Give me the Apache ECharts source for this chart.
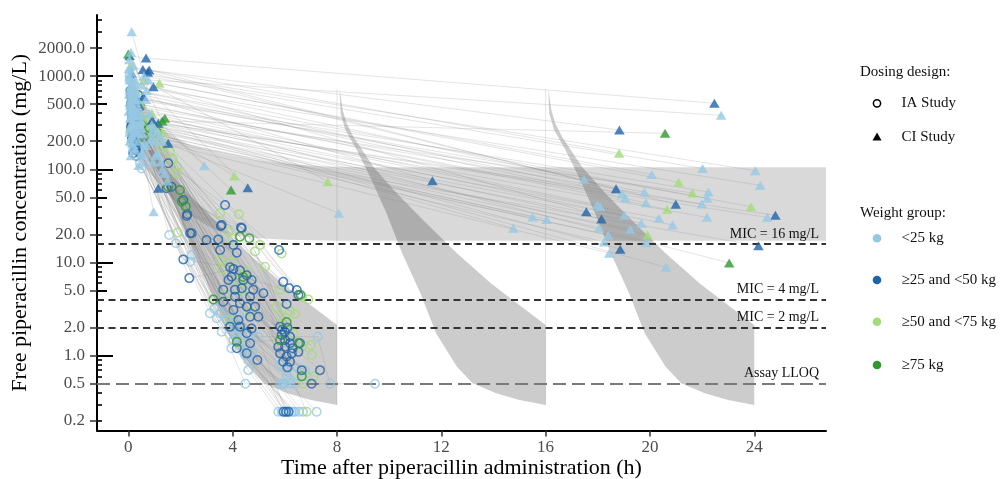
<!DOCTYPE html>
<html><head><meta charset="utf-8">
<script src="https://cdn.jsdelivr.net/npm/echarts/dist/echarts.min.js"></script>
<style>html,body{margin:0;padding:0;background:#fff}#c{width:1004px;height:479px}</style>
</head><body><div id="c"></div>
<script>
// ---------- axis ticks ----------
const yTickLabels = [0.2,0.5,1,2,5,10,20,50,100,200,500,1000,2000];
const xTicks = [0,4,8,12,16,20,24];
const logTicksLong = [1,10,100,1000];
const logTicksMid = [0.5,5,50,500];
const logTicksShort = [0.2,0.3,0.4,0.6,0.7,0.8,0.9,2,3,4,6,7,8,9,20,30,40,60,70,80,90,200,300,400,600,700,800,900,2000,3000,4000];

// ---------- reference lines ----------
const micLines = [{name:'MIC = 16 mg/L', value:16},{name:'MIC = 4 mg/L', value:4},{name:'MIC = 2 mg/L', value:2}];
const lloqLine = {name:'Assay LLOQ', value:0.5};

// ---------- prediction bands ----------
const doseTimes = [0,8,16];
const iaBandUpper = [[0.1,732],[0.22,433],[0.37,312],[0.63,224],[1.4,106],[2.3,55],[3.3,28.5],[4.6,12.6],[5.9,6.0],[6.9,3.65],[8.0,2.13]];
const iaBandLower = [[0.1,732],[0.14,400],[0.32,265],[0.76,161],[1.27,83],[1.9,33.7],[2.5,12.6],[3.2,4.67],[3.8,1.74],[4.6,0.76],[5.2,0.505],[6.1,0.395],[7.0,0.335],[8.0,0.296]];
const ciBandUpper = [[0,1500],[0.3,800],[0.6,520],[1.1,310],[1.6,235],[2.4,180],[3.6,148],[4.9,126],[6.2,113],[7.5,107],[9,105.5],[26.75,105]];
const ciBandLower = [[0,200],[0.5,120],[1,80],[1.5,55],[2,40],[2.5,31],[3,25],[3.5,21.5],[4,19.6],[5,18.2],[6,17.5],[8,17.1],[26.75,17.1]];

// ---------- observations: IA study (one array per individual, [time h, conc mg/L]) ----------
const iaLightBlue = [
 [[0.10,700],[1.57,19.7],[4.03,1.47],[6.00,0.25]],
 [[0.15,600],[1.83,16.1],[4.16,1.60],[6.14,0.25]],
 [[0.20,520],[2.37,10.2],[4.60,0.70],[5.75,0.25]],
 [[0.13,190],[3.13,2.85],[5.88,0.25]],
 [[0.19,161],[3.39,2.52],[6.27,0.25]],
 [[0.45,116],[3.58,1.81],[6.40,0.25]],
 [[0.51,102],[3.77,2.42],[6.70,0.25]],
 [[0.30,400],[4.09,2.05],[7.22,0.25]],
 [[0.25,350],[4.35,1.36],[5.82,0.50]],
 [[0.35,300],[4.47,1.02],[6.01,0.50]],
 [[0.40,250],[4.49,0.50],[6.20,0.50]],
 [[0.22,800],[4.67,1.67],[6.39,0.50]],
 [[0.30,450],[4.99,1.60],[7.26,1.60],[7.73,0.50]],
 [[0.08,900],[4.30,1.90],[6.07,0.70]],
 [[0.28,220],[4.20,2.20],[6.46,0.75]],
 [[0.40,180],[3.90,2.60],[6.78,0.70]],
 [[0.60,130],[4.40,1.20],[5.95,0.50],[9.46,0.50]],
 [[0.18,380],[4.60,0.90],[6.33,0.25]],
 [[0.33,500],[3.95,1.20],[5.90,0.50]],
 [[0.12,650],[3.52,2.85],[6.10,0.60]],
 [[0.26,270],[2.43,12.0],[4.25,2.70],[5.80,0.80]],
 [[0.05,1000],[0.50,300],[3.30,3.20],[6.05,0.25]],
 [[0.16,430],[4.75,1.10],[6.55,0.25]],
 [[0.42,150],[4.10,1.75],[6.22,0.55]]
];
const iaDarkBlue = [
 [[0.38,627],[1.53,116],[3.71,41.4],[5.78,13.6]],
 [[0.45,470],[1.66,65],[3.58,25.3],[5.94,6.2]],
 [[0.20,300],[1.47,62.5],[3.55,24.6],[6.17,5.3]],
 [[0.15,220],[2.11,46.8],[4.32,23.8],[6.46,5.07]],
 [[0.19,149],[2.26,33],[4.35,23.3],[6.52,4.48]],
 [[0.12,400],[2.24,31.6],[3.45,17.7],[6.07,3.59]],
 [[0.10,500],[2.37,20.6],[4.03,15.4],[5.82,2.05]],
 [[0.15,350],[2.43,20.6],[3.52,13.6],[6.10,2.0]],
 [[0.25,420],[3.00,17.4],[4.16,12.7],[5.90,1.9]],
 [[0.10,280],[2.11,10.8],[3.90,8.9],[6.00,1.8]],
 [[0.18,260],[2.34,6.8],[4.03,8.5],[5.88,1.67]],
 [[0.12,600],[4.28,8.2],[6.20,1.6]],
 [[0.18,450],[4.54,7.3],[6.01,1.47]],
 [[0.23,330],[3.96,7.05],[6.20,1.36]],
 [[0.20,380],[4.73,6.5],[6.58,1.36]],
 [[0.08,700],[4.41,6.5],[5.75,1.25]],
 [[0.16,240],[3.84,6.5],[6.01,1.25]],
 [[0.14,520],[4.35,5.3],[6.30,1.2]],
 [[0.30,180],[3.64,5.1],[6.52,1.1]],
 [[0.14,310],[4.09,5.1],[5.82,1.06]],
 [[0.16,560],[4.79,5.1],[6.27,1.06]],
 [[0.26,270],[5.18,4.67],[6.07,0.98]],
 [[0.20,230],[4.67,4.3],[5.94,0.86]],
 [[0.12,480],[4.09,4.3],[6.20,0.86]],
 [[0.18,350],[3.64,3.8],[6.10,0.75]],
 [[0.22,290],[4.28,3.65],[7.35,0.70]],
 [[0.10,620],[4.54,3.36],[6.65,0.70]],
 [[0.24,200],[4.86,3.36],[7.03,0.50]],
 [[0.18,260],[4.03,3.09],[5.95,0.25]],
 [[0.20,240],[4.67,2.62],[6.05,0.25]],
 [[0.16,300],[4.99,2.62]],
 [[0.14,210],[4.22,2.42],[6.15,0.25]],
 [[0.28,170],[3.90,2.05]],
 [[0.20,400],[4.28,2.05]],
 [[0.22,250],[4.73,1.96]],
 [[0.24,190],[4.54,1.74]],
 [[0.16,330],[4.67,1.36]],
 [[0.28,160],[4.16,1.20]],
 [[0.12,300],[4.54,1.06]],
 [[0.30,140],[4.95,0.90]]
];
const iaLightGreen = [
 [[0.84,286],[3.52,33.7],[5.88,12.5]],
 [[1.00,250],[4.24,32.9],[6.65,4.3]],
 [[1.60,155],[3.84,21.4],[5.82,5.1]],
 [[1.86,107],[5.05,15.4],[6.90,4.0]],
 [[1.86,90.6],[4.86,13.1],[5.69,3.36]],
 [[1.20,200],[5.24,9.0],[5.88,2.62]],
 [[1.40,180],[3.52,10.6],[6.20,3.0]],
 [[0.50,350],[3.96,10.2],[6.07,2.22]],
 [[0.70,300],[4.00,18.0],[6.33,1.74]],
 [[1.10,230],[4.35,5.1],[6.65,1.25]],
 [[0.60,320],[4.67,2.97],[7.03,1.02]],
 [[0.90,260],[3.90,2.42],[7.10,0.60]],
 [[1.30,170],[4.20,6.5],[6.71,0.50]],
 [[0.40,380],[3.70,4.5],[7.00,1.30]],
 [[1.70,130],[4.50,8.0],[6.84,0.25]],
 [[0.30,420],[1.90,21.0],[3.60,8.5],[6.40,2.8]]
];
const iaDarkGreen = [
 [[0.50,300],[1.53,65],[4.64,18.2],[6.07,2.3]],
 [[1.10,250],[1.98,60],[4.28,18.9],[6.52,1.36]],
 [[0.80,280],[2.05,45],[3.26,4.0],[6.65,0.6]],
 [[0.30,350],[4.16,1.41],[5.82,1.47]],
 [[0.60,220],[2.20,40],[4.40,7.0],[6.60,4.5]]
];

// ---------- observations: CI study ----------
const ciLightBlue = [
 [[0.77,908],[22.73,380]],
 [[0.13,2990],[0.60,1000],[22.02,102]],
 [[0.10,1100],[24.04,96.7]],
 [[0.05,950],[20.07,88]],
 [[0.20,850],[17.47,78]],
 [[0.15,780],[24.23,67.3]],
 [[0.68,560],[22.24,57]],
 [[0.25,700],[18.93,54.3]],
 [[0.30,650],[19.06,49.2]],
 [[0.10,600],[19.79,57]],
 [[0.35,560],[22.20,48.9]],
 [[0.05,520],[19.85,43.8]],
 [[0.18,480],[21.99,42.4]],
 [[0.40,450],[17.98,41.7]],
 [[0.22,430],[18.09,39.8]],
 [[0.12,400],[19.02,32.1]],
 [[0.28,380],[22.19,30.5]],
 [[0.08,350],[20.34,29.8]],
 [[0.45,340],[24.50,30.5]],
 [[0.15,320],[20.87,25.3]],
 [[0.32,300],[19.67,26.3]],
 [[0.20,290],[18.06,23.6]],
 [[0.50,280],[19.25,22.7]],
 [[0.06,270],[18.40,19.6]],
 [[0.26,250],[18.24,16.6]],
 [[0.38,240],[19.85,16.3]],
 [[0.14,230],[18.44,12.6]],
 [[0.90,300],[20.62,8.88]],
 [[1.00,280],[14.76,23.3]],
 [[1.10,250],[15.50,30.8]],
 [[1.20,230],[16.04,29]],
 [[1.30,200],[8.07,33.7]],
 [[0.80,400],[2.91,109]],
 [[0.55,150],[0.97,35]],
 [[0.10,800],[0.90,250]],
 [[0.05,700],[1.00,200]],
 [[0.12,650],[1.10,150]],
 [[0.20,600],[1.25,120]],
 [[0.08,500],[1.30,100]],
 [[0.16,380],[1.40,90]],
 [[0.24,330],[1.50,75]],
 [[0.06,200],[0.70,180]],
 [[0.18,170],[0.95,120]],
 [[0.10,140],[0.40,110]],
 [[0.02,1200],[0.35,420]],
 [[0.04,1000],[0.45,380]],
 [[0.06,900],[0.30,520]],
 [[0.09,760],[0.50,330]],
 [[0.03,640],[0.25,560]],
 [[0.11,560],[0.42,300]],
 [[0.07,480],[0.33,260]],
 [[0.14,440],[0.55,240]],
 [[0.02,420],[0.22,380]],
 [[0.09,360],[0.38,200]],
 [[0.16,300],[0.62,190]],
 [[0.05,250],[0.28,160]],
 [[0.12,220],[0.48,140]],
 [[0.19,1300],[0.70,700]],
 [[0.04,1500],[0.26,900]],
 [[0.10,1800],[0.50,800]],
 [[0.21,460],[0.85,210]],
 [[0.15,190],[1.05,140]]
];
const ciDarkBlue = [
 [[0.05,1650],[0.68,1560],[22.47,511]],
 [[0.56,1180],[18.83,264]],
 [[0.75,1100],[18.70,61.9]],
 [[0.80,1160],[20.99,42.1]],
 [[0.96,770],[17.56,35]],
 [[0.92,338],[18.14,29.3]],
 [[1.15,312],[24.81,32.1]],
 [[1.53,190],[24.16,15.1]],
 [[0.30,360],[18.86,13.9]],
 [[0.58,600],[11.66,75.5]],
 [[0.13,1070],[4.58,63.5]],
 [[0.40,500],[1.15,62.5]]
];
const ciLightGreen = [
 [[0.07,1260],[18.82,149]],
 [[1.19,837],[21.10,72.6]],
 [[0.07,286],[0.90,400],[21.63,55.7]],
 [[0.30,700],[23.87,39.7]],
 [[0.50,500],[20.66,37.2]],
 [[1.00,300],[19.91,19.7]],
 [[0.60,900],[7.65,73.6]],
 [[1.30,250],[4.06,85]]
];
const ciDarkGreen = [
 [[0.00,1725],[1.30,330],[20.58,243]],
 [[1.40,352],[23.04,9.9]],
 [[0.20,600],[3.94,60]]
];

// ---------- legend ----------
const weightGroups = ['<25 kg','≥25 and <50 kg','≥50 and <75 kg','≥75 kg'];
const dosingDesigns = ['IA Study','CI Study'];

// ---------- styling ----------
const COLORS = ['#96c8e4','#1f64aa','#a3dc78','#2e9a2e'];
const FONT = '"Liberation Serif","Times New Roman",serif';
const L = Math.log10;
const Y_MIN = -0.8026, Y_MAX = 3.6556, X_MIN = -1.2, X_MAX = 26.75;

const toXY = ind => ind.map(p => [p[0], L(p[1])]);
const flat = inds => inds.reduce((a, ind) => a.concat(toXY(ind)), []);

function bandRender(up, lo, fill, edge) {
  return function (params, api) {
    const d = api.value(0);
    const pts = up.map(p => api.coord([p[0] + d, L(p[1])]))
      .concat(lo.slice().reverse().map(p => api.coord([p[0] + d, L(p[1])])));
    const children = [{ type: 'polygon', shape: { points: pts }, style: { fill: fill } }];
    if (edge && d > 0) {
      const a = api.coord([d, L(up[0][1])]);
      const b = api.coord([d, L(lo[lo.length - 1][1])]);
      children.push({ type: 'line', shape: { x1: a[0], y1: a[1], x2: b[0], y2: b[1] },
        style: { stroke: 'rgba(0,0,0,0.13)', lineWidth: 0.8 } });
    }
    return { type: 'group', children: children };
  };
}

const allInds = [].concat(iaLightBlue, iaDarkBlue, iaLightGreen, iaDarkGreen,
                          ciLightBlue, ciDarkBlue, ciLightGreen, ciDarkGreen);

function circleSeries(inds, col) {
  return { type: 'scatter', z: 5, data: flat(inds), symbol: 'circle', symbolSize: 8.5,
    itemStyle: { color: 'rgba(0,0,0,0)', borderColor: col, borderWidth: 1.5 }, silent: true };
}
function triSeries(inds, col) {
  return { type: 'scatter', z: 6, data: flat(inds), symbol: 'triangle', symbolSize: [10.5, 9],
    itemStyle: { color: col }, silent: true };
}

function yAxisBase(extra) {
  return Object.assign({
    type: 'value', min: Y_MIN, max: Y_MAX, position: 'left', offset: 0,
    splitLine: { show: false }, axisLine: { show: false, onZero: false },
    axisLabel: { show: false }
  }, extra);
}

const option = {
  animation: false,
  backgroundColor: '#fff',
  textStyle: { fontFamily: FONT },
  grid: { left: 97, right: 178, top: 15, bottom: 48.5, containLabel: false, outerBoundsMode: 'none' },
  xAxis: {
    type: 'value', min: X_MIN, max: X_MAX,
    name: 'Time after piperacillin administration (h)', nameLocation: 'middle', nameGap: 27,
    nameMoveOverlap: false,
    nameTextStyle: { fontSize: 22, color: '#000', fontFamily: FONT, verticalAlign: 'top' },
    splitLine: { show: false },
    axisLine: { show: true, onZero: false, lineStyle: { color: '#000', width: 2 } },
    axisTick: { show: true, customValues: xTicks, length: 6, lineStyle: { color: '#333', width: 1.5 } },
    axisLabel: { customValues: xTicks, fontSize: 17, color: '#4d4d4d', fontFamily: FONT, margin: 9 }
  },
  yAxis: [
    yAxisBase({
      name: 'Free piperacillin concentration (mg/L)', nameLocation: 'middle', nameGap: 66, nameRotate: 90,
      nameMoveOverlap: false,
      nameTextStyle: { fontSize: 22, color: '#000', fontFamily: FONT },
      axisLine: { show: true, onZero: false, lineStyle: { color: '#000', width: 2 } },
      axisTick: { show: true, customValues: yTickLabels.map(L), length: 7, lineStyle: { color: '#333', width: 1.5 } },
      axisLabel: { show: true, customValues: yTickLabels.map(L), fontSize: 17, color: '#4d4d4d', fontFamily: FONT, margin: 12,
        formatter: v => Math.pow(10, v).toFixed(1) }
    }),
    yAxisBase({ axisTick: { show: true, inside: true, customValues: logTicksLong.map(L), length: 16, lineStyle: { color: '#000', width: 2 } } }),
    yAxisBase({ axisTick: { show: true, inside: true, customValues: logTicksMid.map(L), length: 10, lineStyle: { color: '#000', width: 2 } } }),
    yAxisBase({ axisTick: { show: true, inside: true, customValues: logTicksShort.map(L), length: 5, lineStyle: { color: '#000', width: 1.6 } } })
  ],
  series: [
    { type: 'custom', z: 1, clip: true, silent: true, data: [[0, 0]],
      renderItem: bandRender(ciBandUpper, ciBandLower, 'rgba(0,0,0,0.15)', false) },
    { type: 'custom', z: 2, clip: true, silent: true, data: doseTimes.map(d => [d, 0]),
      renderItem: bandRender(iaBandUpper, iaBandLower, 'rgba(0,0,0,0.2)', true) },
    { type: 'lines', z: 3, coordinateSystem: 'cartesian2d', polyline: true, silent: true,
      data: allInds.map(ind => ({ coords: toXY(ind) })),
      lineStyle: { color: 'rgba(130,130,130,0.28)', width: 0.8, opacity: 1 } },
    { type: 'line', z: 4, data: [[X_MIN, L(lloqLine.value)]], symbol: 'none', silent: true,
      lineStyle: { opacity: 0 },
      markLine: {
        silent: true, symbol: ['none', 'none'], animation: false,
        data: micLines.map(m => ({ name: m.name, yAxis: L(m.value),
          lineStyle: { color: '#333', width: 2, type: [7, 4.5] } }))
          .concat([{ name: lloqLine.name, yAxis: L(lloqLine.value),
          lineStyle: { color: '#7a7a7a', width: 2, type: [13, 6] } }]),
        label: { show: true, position: 'insideEndTop', formatter: p => p.name, fontSize: 14,
          color: '#111', fontFamily: FONT, distance: [7, 3] }
      } },
    circleSeries(iaLightBlue, COLORS[0]),
    circleSeries(iaLightGreen, COLORS[2]),
    circleSeries(iaDarkBlue, COLORS[1]),
    circleSeries(iaDarkGreen, COLORS[3]),
    triSeries(ciLightGreen, COLORS[2]),
    triSeries(ciDarkBlue, COLORS[1]),
    triSeries(ciDarkGreen, COLORS[3]),
    triSeries(ciLightBlue, COLORS[0])
  ],
  graphic: (function () {
    const g = [];
    const tx = (x, y, t) => ({ type: 'text', x: x, y: y, silent: true,
      style: { text: t, fontSize: 15, fontFamily: FONT, fill: '#111', align: 'left', verticalAlign: 'middle' } });
    g.push(tx(860, 71.7, 'Dosing design:'));
    g.push({ type: 'circle', silent: true, shape: { cx: 877, cy: 103.3, r: 3.6 }, style: { fill: 'none', stroke: '#000', lineWidth: 1.5 } });
    g.push(tx(901.5, 103.3, dosingDesigns[0]));
    g.push({ type: 'polygon', silent: true, shape: { points: [[877, 132.6], [881.5, 140.6], [872.5, 140.6]] }, style: { fill: '#000' } });
    g.push(tx(901.5, 137.3, dosingDesigns[1]));
    g.push(tx(860, 213.3, 'Weight group:'));
    const ys = [238.3, 280, 321.7, 365];
    weightGroups.forEach((w, i) => {
      g.push({ type: 'circle', silent: true, shape: { cx: 877, cy: ys[i], r: 4.3 }, style: { fill: COLORS[i] } });
      g.push(tx(901.5, ys[i], w));
    });
    return g;
  })()
};

const chart = echarts.init(document.getElementById('c'), null, { renderer: 'canvas' });
chart.setOption(option);
</script></body></html>
